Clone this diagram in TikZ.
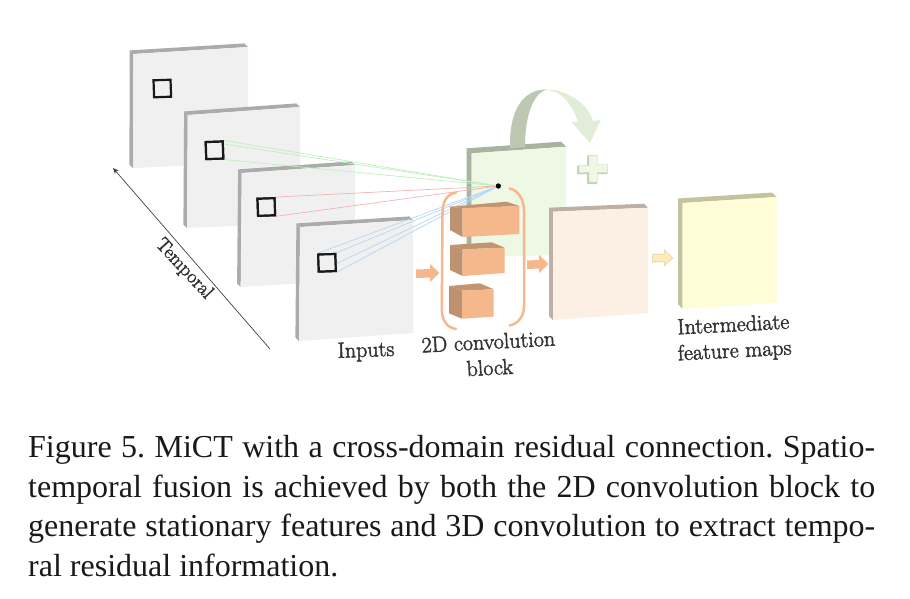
\documentclass[tikz,border=0pt]{standalone}
\usepackage{fontspec}
\usetikzlibrary{calc,arrows.meta}
\newfontfamily\capfont{Liberation Serif}
\newcommand{\heavy}[1]{\special{pdf:code 2 Tr 0.45 w}#1\special{pdf:code 0 Tr 1 w}}
\definecolor{pgrey}{HTML}{F0F0F0}
\definecolor{sgrey}{HTML}{ABABAB}
\definecolor{pgreen}{HTML}{EEF8E4}
\definecolor{sgreen}{HTML}{A9B3A2}
\definecolor{plusedge}{HTML}{C3D4B4}
\definecolor{ppeach}{HTML}{FCEFE3}
\definecolor{speach}{HTML}{BDB0A6}
\definecolor{pyellow}{HTML}{FFFDD8}
\definecolor{syellow}{HTML}{C4C3A0}
\definecolor{boxfront}{HTML}{F4B88C}
\definecolor{boxside}{HTML}{BE916F}
\definecolor{boxtop}{HTML}{C39470}
\definecolor{lgreen}{HTML}{BDEFBD}
\definecolor{lred}{HTML}{F6B2B2}
\definecolor{lblue}{HTML}{B4D6F4}
\definecolor{agreen}{HTML}{E2EDD8}
\definecolor{adark}{HTML}{BCC8B2}
\definecolor{labelc}{HTML}{333333}
\newcommand{\panel}[7]{%
  \fill[#6] ($(#1)+(-#7,-#7)$) -- ($(#2)+(-#7,-#7)$) -- (#2) -- (#1) -- cycle;
  \fill[#6] ($(#1)+(-#7,-#7)$) -- ($(#4)+(-#7,-#7)$) -- (#4) -- (#1) -- cycle;
  \fill[#5] (#1) -- (#2) -- (#3) -- (#4) -- cycle;}
\newcommand{\cuboid}[7]{%
  \fill[boxtop] (#5) -- (#6) -- (#2) -- (#1) -- cycle;
  \fill[boxside] (#5) -- (#1) -- (#4) -- (#7) -- cycle;
  \fill[boxfront] (#1) -- (#2) -- (#3) -- (#4) -- cycle;}
\tikzset{
  window/.style={draw=black!90,line width=2.2pt,fill=pgrey,minimum size=17pt,inner sep=0pt,rotate=2},
  ray/.style={line width=0.7pt},
  brace/.style={draw=boxfront,line width=2.5pt,line cap=round},
  label/.style={text=labelc,font=\fontsize{22}{26}\selectfont,align=center,inner sep=0pt},
}
\begin{document}
\begin{tikzpicture}[x=1pt,y=-1pt]
\useasboundingbox (0,0) rectangle (910,598);
% panels
\panel{133.3,54}{248,47}{248,163}{133,168}{pgrey}{sgrey}{3.6}
\node[window] (s1) at (162.3,88.5) {};
\panel{187.7,115}{300,107}{300,223}{187,228}{pgrey}{sgrey}{3.6}
\panel{241.7,173}{355,165}{355,280}{240.7,287}{pgrey}{sgrey}{3.6}
\panel{300,227}{413,220}{413,333}{299,341}{pgrey}{sgrey}{3.6}
\panel{471.7,153.3}{566,146.7}{566,255}{471.7,257}{pgreen}{sgreen}{5}
% curved arrow
\fill[agreen] (543,89.5) .. controls (565,88) and (588,103) .. (593,121)
  -- (600.7,120) -- (590,143) -- (571.7,122.3) -- (578,121.5)
  .. controls (572,105) and (562,92) .. (550,90.5) -- cycle;
\fill[adark] (510,148.3) .. controls (509,115) and (520,89) .. (547,89.5)
  .. controls (535,92) and (525,112) .. (525,147) -- cycle;
% plus sign
\fill[plusedge] (587,155.5) -- (597,155) -- (597,165) -- (607.5,165) -- (607.5,174) -- (597,174) -- (597,184) -- (587,184) -- (587,174) -- (577,174.5) -- (577,165.5) -- (587,165.5) -- cycle;
\fill[pgreen,draw=plusedge,line width=0.4pt] (589,155.5) -- (597.5,155) -- (597.5,164.5) -- (607.5,164.5) -- (607.5,172.5) -- (597.5,172.5) -- (597.5,182) -- (589,182) -- (589,172.5) -- (579,173) -- (579,165.5) -- (589,165.5) -- cycle;
% second-level panels
\panel{553,211.7}{648,207.7}{648,313}{553,320}{ppeach}{speach}{4}
\panel{682.7,203}{776.7,197}{777,302.7}{682.7,309}{pyellow}{syellow}{4.5}
% windows and rays
\node[circle,fill=black,minimum size=5pt,inner sep=0pt] (dot) at (498.3,186) {};
\node[window] (s2) at (214.5,150.3) {};
\node[window] (s3) at (266.3,207) {};
\node[window] (s4) at (327,262.8) {};
\foreach \a in {north east,south east,north west}
  \draw[ray,lgreen] (s2.\a) -- (dot.center);
\foreach \a in {north east,south east}
  \draw[ray,lred] (s3.\a) -- (dot.center);
\foreach \a in {north west,north east,south west,south east}
  \draw[ray,lblue] (s4.\a) -- (dot.center);
\node[window] at (s2) {};
\node[window] at (s3) {};
\node[window] at (s4) {};
\node[circle,fill=black,minimum size=5pt,inner sep=0pt] at (dot) {};
% cuboids
\cuboid{462.7,208.3}{519.3,206}{519.3,234}{462.7,237}{450,206.7}{506.7,201.7}{450,230}
\cuboid{462.7,249.3}{504.7,247.7}{504.7,273}{462.7,276}{450,245}{491.7,242.3}{450,270}
\cuboid{462,290.7}{493.7,289.3}{493.7,316.7}{462,318.7}{449,286}{480,283.3}{449,313.3}
% brackets
\draw[brace] (456,192.7) .. controls (446,194) and (442.5,203) .. (442.5,213) -- (441.8,310) .. controls (442,320) and (447,328) .. (456,329);
\draw[brace] (509.5,188.5) .. controls (518,190) and (524,200) .. (524,210) -- (524,306.7) .. controls (524,316) and (518,324) .. (509.5,325.5);
% block arrows
\fill[boxfront] (416,269.5) -- (430,269) -- (430,264) -- (439.5,273) -- (430,282) -- (430,277.5) -- (416,278) -- cycle;
\fill[boxfront] (527,260.5) -- (539,260) -- (539,255) -- (548.5,264) -- (539,273) -- (539,268.5) -- (527,269) -- cycle;
\fill[syellow!55!pyellow] (652,254) -- (664,253.5) -- (664,249) -- (673.5,258) -- (664,266.5) -- (664,262) -- (652,262.5) -- cycle;
\fill[pyellow!85!orange] (653,255) -- (665,254.5) -- (665,251) -- (672,258) -- (665,264.5) -- (665,261) -- (653,261) -- cycle;
% temporal axis
\coordinate (axisend) at (270,349);
\coordinate (axistip) at (113,168);
\draw[-{Stealth[length=6pt,width=5pt]},line width=0.7pt,black!75] (axisend) -- (axistip);
% labels
\node[label,font=\fontsize{19.5}{24}\selectfont,rotate=-47] (temporal) at (184,269) {\heavy{Temporal}};
\node[label,rotate=2] (inputs) at (366,351.5) {\heavy{Inputs}};
\node[label,rotate=3] (conv) at (489,354.5) {\heavy{2D convolution}\\\heavy{block}};
\node[label,rotate=3] (inter) at (734,339) {\heavy{Intermediate}\\\heavy{feature maps}};
% caption
\node[anchor=north west,inner sep=0pt,text width=847pt,align=justify,text=black!90,font=\capfont\fontsize{32}{39.6}\selectfont\frenchspacing] (caption) at (28,435)
  {Figure 5. MiCT with a cross-domain residual connection. Spatio-\linebreak temporal fusion is achieved by both the 2D convolution block to\linebreak generate stationary features and 3D convolution to extract tempo-\linebreak ral residual information.};
\end{tikzpicture}
\end{document}
